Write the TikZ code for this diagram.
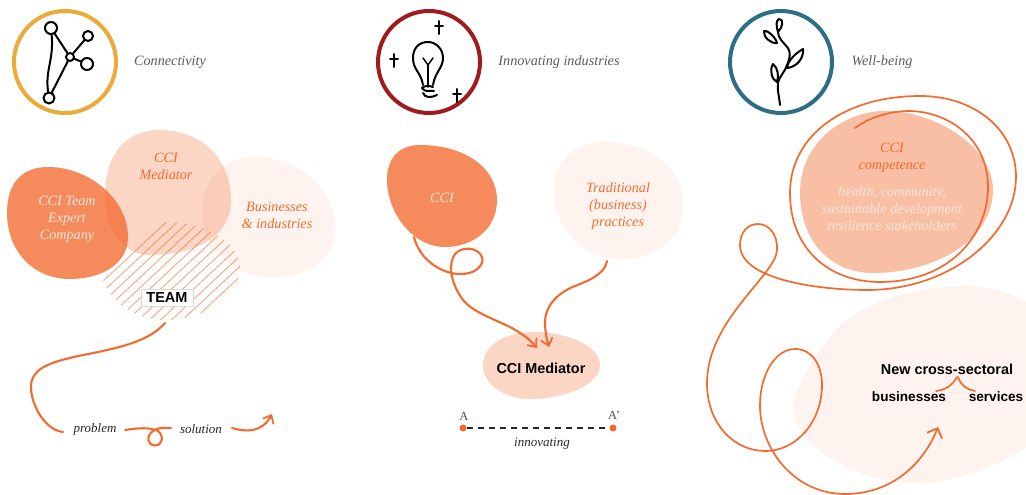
\documentclass[tikz,border=0pt]{standalone}
\usepackage{fontspec}
\setmainfont{Liberation Serif}
\newfontfamily\sansbold{Liberation Sans}
\usetikzlibrary{arrows.meta}
\definecolor{ora}{HTML}{F26A2E}
\definecolor{txtgray}{HTML}{5A5A5A}
\definecolor{icoA}{HTML}{EBAB3A}
\definecolor{icoB}{HTML}{9E1B1E}
\definecolor{icoC}{HTML}{2C6E85}
\definecolor{pale}{HTML}{FDE6DA}
\tikzset{
  x=1pt,y=-1pt,
  blobstrong/.style={fill=ora,fill opacity=.78,draw=none},
  blobmid/.style={fill=ora,fill opacity=.43,draw=none},
  bloblight/.style={fill=ora,fill opacity=.28,draw=none},
  blobpale/.style={fill=ora,fill opacity=.08,draw=none},
  curve/.style={draw=ora,line width=2.1pt,line cap=round,line join=round},
  thincurve/.style={draw=ora,line width=1.7pt,line cap=round,line join=round},
  arrowed/.style={-{Straight Barb[length=7pt,width=12pt,line width=1.8pt]}},
  bigarrowed/.style={-{Straight Barb[length=8pt,width=16pt,line width=1.8pt]}},
  ico/.style={line width=4pt,fill=white},
  ink/.style={draw=black,line width=2pt,line cap=round,line join=round},
  lora/.style={inner sep=0pt,font=\fontsize{14.2}{17}\selectfont\itshape,align=center,yshift=-1.5pt},
  head/.style={lora,text=txtgray},
  ital/.style={inner sep=0pt,font=\fontsize{13}{15}\selectfont\itshape,text=black!85,yshift=-1pt},
  sanslabel/.style={inner sep=0pt,font=\sansbold\bfseries\fontsize{13.6}{16}\selectfont,text=black},
  dot/.style={circle,fill=ora,inner sep=0pt,minimum size=7pt},
}
\begin{document}
\begin{tikzpicture}
\useasboundingbox (0,0) rectangle (1026,495);
\clip (0,0) rectangle (1026,495);

% ---------- panel 1 blobs
\fill[blobpale] (255,157) .. controls (305,157) and (335,195) .. (335,228) .. controls (335,262) and (305,277) .. (272,277) .. controls (232,277) and (202,248) .. (202,212) .. controls (202,178) and (225,157) .. (255,157) -- cycle;
\fill[bloblight] (160,130) .. controls (203,130) and (231,160) .. (231,200) .. controls (231,240) and (190,255) .. (150,255) .. controls (122,255) and (105,228) .. (105,195) .. controls (105,155) and (125,130) .. (160,130) -- cycle;
\fill[blobstrong] (48,167) .. controls (90,167) and (128,200) .. (128,237) .. controls (128,265) and (100,279) .. (70,279) .. controls (32,279) and (7,250) .. (7,213) .. controls (7,183) and (22,167) .. (48,167) -- cycle;
% hatching
\begin{scope}
\clip (165,222) .. controls (210,222) and (240,245) .. (240,268) .. controls (240,295) and (205,320) .. (165,320) .. controls (130,320) and (100,295) .. (100,262) .. controls (100,240) and (125,222) .. (165,222) -- cycle;
\foreach \c in {0,11,...,270}{
  \draw[ora,opacity=.65,line width=.8pt] (\c+40,340) -- (\c+190,200);
}
\end{scope}
\node[inner sep=0pt,minimum width=52pt,minimum height=17pt,fill=white,draw=black!15,line width=.4pt,font=\sansbold\bfseries\fontsize{14.5}{16}\selectfont] (team) at (167,297.5) {TEAM};

% icon 1
\draw[icoA,ico] (65,62) circle (51);
\node[circle,ink,inner sep=0pt,minimum size=12pt] (n1) at (51,28) {};
\node[circle,ink,inner sep=0pt,minimum size=10pt] (n2) at (88,36) {};
\node[circle,ink,inner sep=0pt,minimum size=8pt] (n3) at (70,57) {};
\node[circle,ink,inner sep=0pt,minimum size=12pt] (n4) at (87,64) {};
\node[circle,ink,inner sep=0pt,minimum size=11pt] (n5) at (49,98) {};
\draw[ink] (n1) -- (n3);
\draw[ink] (n2) -- (n3);
\draw[ink] (n4) -- (n3);
\draw[ink] (n5) -- (n3);
\draw[ink] (n1) .. controls (54,60) and (45,70) .. (n5);
\node[head] (t1) at (170,61) {Connectivity};

% panel 1 labels
\node[lora,text=pale] (l1) at (67,218) {CCI Team\\[0pt]Expert\\[0pt]Company};
\node[lora,text=ora] (l2) at (166,164.5) {CCI\\[0pt]Mediator};
\node[lora,text=ora] (l3) at (277,213.5) {Businesses\\[0pt]\&\ industries};

% panel 1 connector
\node[ital] (problem) at (95,428.5) {problem};
\node[ital] (solution) at (201,428.5) {solution};
\coordinate (teamOut) at (165,323);
\coordinate (probIn) at (63,432);
\coordinate (probOut) at (125,430);
\coordinate (solIn) at (171,428);
\coordinate (solOut) at (232,428);
\coordinate (goal) at (272,414);
\draw[curve] (teamOut) .. controls (150,340) and (125,347) .. (83,355)
  .. controls (50,362) and (31,368) .. (31,387)
  .. controls (31,405) and (45,430) .. (probIn);
\draw[curve] (probOut) .. controls (138,428) and (150,427) .. (158,431)
  .. controls (164,436) and (163,445) .. (155,445.5)
  .. controls (147,445) and (146,436) .. (153,431)
  .. controls (158,427) and (164,428) .. (solIn);
\draw[curve,arrowed] (solOut) .. controls (245,432) and (262,433) .. (goal);

% ---------- panel 2
\draw[icoB,ico] (429,62) circle (51);
\draw[ink] (437,95) .. controls (431,98) and (425,98) .. (423,93);
\draw[ink] (433,87) .. controls (428,85) and (424,86) .. (422,88)
  .. controls (425,93) and (431,90) .. (434,91);
\draw[ink] (423,85) .. controls (421,72) and (413,70) .. (413,58)
  .. controls (413,47) and (420,42) .. (428,42)
  .. controls (436,42) and (443,49) .. (443,58)
  .. controls (443,68) and (435,72) .. (433,85);
\draw[ink,line width=1.5pt] (423,58) -- (428,65) -- (433,58);
\draw[ink,line width=1.5pt] (428,65) -- (428,87);
\foreach \px/\py in {439/27,394/60,457/95}{
  \draw[ink] (\px,\py-6) -- (\px,\py+7);
  \draw[ink] (\px-4,\py-1) -- (\px+4,\py-1);
}
\node[head] (t2) at (559,61) {Innovating industries};

\fill[blobstrong] (420,145) .. controls (465,145) and (497,168) .. (497,200) .. controls (497,230) and (472,247) .. (445,247) .. controls (412,247) and (387,212) .. (387,180) .. controls (387,157) and (400,145) .. (420,145) -- cycle;
\fill[blobpale] (605,142) .. controls (652,142) and (683,170) .. (683,205) .. controls (683,238) and (658,259) .. (622,259) .. controls (582,259) and (554,228) .. (554,190) .. controls (554,160) and (575,142) .. (605,142) -- cycle;
\fill[bloblight] (535,332) .. controls (565,332) and (600,345) .. (600,365) .. controls (600,385) and (565,399) .. (530,399) .. controls (505,399) and (483,385) .. (483,365) .. controls (483,345) and (505,332) .. (535,332) -- cycle;
\node[lora,text=pale] (cci) at (442,196) {CCI};
\node[lora,text=ora] (trad) at (618,205) {Traditional\\[0pt](business)\\[0pt]practices};
\node[sanslabel,font=\sansbold\bfseries\fontsize{14.4}{16}\selectfont] (med) at (541,368) {CCI Mediator};
\coordinate (cciOut) at (414,237);
\coordinate (medInA) at (537,348);
\coordinate (tradOut) at (607,261);
\coordinate (medInB) at (549,347);
\draw[curve,arrowed] (cciOut) .. controls (420,262) and (445,275) .. (462,274)
  .. controls (480,273) and (484,262) .. (482,257)
  .. controls (478,247) and (462,246) .. (455,254)
  .. controls (448,264) and (450,282) .. (463,300)
  .. controls (475,315) and (505,322) .. (520,333)
  .. controls (528,338) and (533,343) .. (medInA);
\draw[curve,arrowed] (tradOut) .. controls (605,275) and (585,282) .. (575,286)
  .. controls (555,294) and (545,308) .. (545,322)
  .. controls (545,332) and (547,340) .. (medInB);
\node[dot] (a) at (463,428) {};
\node[dot] (ap) at (613,428) {};
\draw[black!85,line width=1.4pt,dash pattern=on 6pt off 5pt] (a) -- (ap);
\node[inner sep=0pt,font=\fontsize{12.5}{15}\selectfont,text=black!70] (la) at (464,416) {A};
\node[inner sep=0pt,font=\fontsize{12.5}{15}\selectfont,text=black!70] (lap) at (614,415) {A’};
\node[ital] (inn) at (542,443) {innovating};

% ---------- panel 3
\draw[icoC,ico] (781,62) circle (51);
\draw[ink] (780,105) .. controls (779,95) and (777,90) .. (778,83)
  .. controls (780,75) and (785,72) .. (787,65)
  .. controls (790,58) and (791,53) .. (788,48)
  .. controls (783,42) and (778,38) .. (778,32)
  .. controls (776,26) and (776,20) .. (779,19)
  .. controls (784,19) and (783,27) .. (778,32);
\draw[ink] (764,31) .. controls (768,30) and (776,38) .. (777,43)
  .. controls (771,44) and (763,37) .. (764,31);
\draw[ink] (803,49) .. controls (804,58) and (797,67) .. (787,68)
  .. controls (788,60) and (796,53) .. (803,49);
\draw[ink] (773,64) .. controls (778,68) and (779,76) .. (777,82)
  .. controls (772,80) and (769,70) .. (773,64);
\node[head] (t3) at (882,61) {Well-being};

\fill[blobpale] (793,405) .. controls (800,375) and (825,340) .. (843,323) .. controls (870,300) and (920,286) .. (963,286) .. controls (1010,286) and (1060,310) .. (1080,370) .. controls (1090,420) and (990,483) .. (917,483) .. controls (860,483) and (795,450) .. (793,405) -- cycle;
\fill[blobmid] (880,111) .. controls (930,108) and (993,145) .. (993,190) .. controls (993,240) and (935,273) .. (873,273) .. controls (828,273) and (800,238) .. (800,193) .. controls (800,148) and (835,115) .. (880,111) -- cycle;

\node[lora,text=ora] (comp) at (892,156) {CCI\\[0pt]competence};
\node[lora,text=pale] (health) at (892,207) {health, community,\\[0pt]sustainable development\\[0pt]resilience stakeholders};
\node[sanslabel,font=\sansbold\bfseries\fontsize{14.4}{16}\selectfont] (nc) at (947,369) {New cross-sectoral};
\node[sanslabel] (biz) at (909,397) {businesses};
\node[sanslabel] (serv) at (996,397) {services};
\coordinate (spiralStart) at (855,128);
\coordinate (spiralEnd) at (938,427);
\draw[thincurve,bigarrowed] (spiralStart) .. controls (870,117) and (890,111) .. (910,111)
  .. controls (950,112) and (988,140) .. (988,187)
  .. controls (988,235) and (950,282) .. (880,282)
  .. controls (830,282) and (790,250) .. (790,193)
  .. controls (790,135) and (845,96) .. (920,96)
  .. controls (975,96) and (1016,130) .. (1016,177)
  .. controls (1016,235) and (950,290) .. (867,290)
  .. controls (820,290) and (740,280) .. (740,245)
  .. controls (740,232) and (748,224) .. (758,224)
  .. controls (769,224) and (778,235) .. (777,250)
  .. controls (776,275) and (707,320) .. (707,383)
  .. controls (707,425) and (735,451) .. (765,451)
  .. controls (798,451) and (822,420) .. (822,385)
  .. controls (822,365) and (812,349) .. (795,349)
  .. controls (775,349) and (760,375) .. (760,405)
  .. controls (760,450) and (795,494) .. (845,494)
  .. controls (895,494) and (925,460) .. (spiralEnd);
\coordinate (bA) at (936,391);
\coordinate (bB) at (957,377);
\coordinate (bC) at (958,377);
\coordinate (bD) at (975,391);
\draw[thincurve] (bA) .. controls (945,390) and (952,386) .. (bB);
\draw[thincurve] (bC) .. controls (961,386) and (968,390) .. (bD);
\end{tikzpicture}
\end{document}
